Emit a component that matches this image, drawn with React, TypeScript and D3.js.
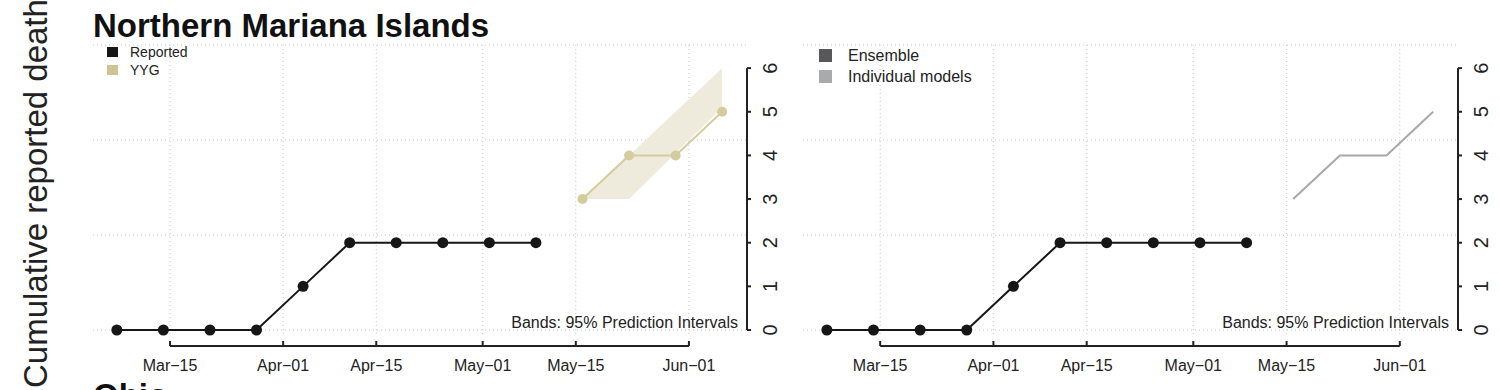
import React from "react";
import * as d3 from "d3";

const title = "Northern Mariana Islands";
const nextTitle = "Ohio";
const yAxisTitle = "Cumulative reported deaths";
const bandNote = "Bands: 95% Prediction Intervals";

const reportedDates = ["2020-03-07", "2020-03-14", "2020-03-21", "2020-03-28", "2020-04-04", "2020-04-11", "2020-04-18", "2020-04-25", "2020-05-02", "2020-05-09"];
const reportedValues = [0, 0, 0, 0, 1, 2, 2, 2, 2, 2];

const forecastDates = ["2020-05-16", "2020-05-23", "2020-05-30", "2020-06-06"];
const yygMedian = [3, 4, 4, 5];
const yygLower = [3, 3, 4.05, 5.1];
const yygUpper = [3, 4, 5, 6];
const individualModelValues = [3, 4, 4, 5];

const xTickDates = ["2020-03-15", "2020-04-01", "2020-04-15", "2020-05-01", "2020-05-15", "2020-06-01"];
const xTickLabels = ["Mar\u221215", "Apr\u221201", "Apr\u221215", "May\u221201", "May\u221215", "Jun\u221201"];
const yTicks = [0, 1, 2, 3, 4, 5, 6];

const leftLegend = ["Reported", "YYG"];
const rightLegend = ["Ensemble", "Individual models"];

const xDomain = [new Date("2020-03-03T10:00:00"), new Date("2020-06-09T14:00:00")];
const yDomain = [0, 6.53];

const FONT = "'Liberation Sans', Arial, Helvetica, sans-serif";
const YYG_COLOR = "#d5cc9e";
const YYG_BAND = "#efebdc";
const parse = (s: string) => new Date(s + "T00:00:00");

type PanelProps = { left: number; right: number; mode: "yyg" | "ensemble" };

function Panel({ left, right, mode }: PanelProps) {
  const top = 45;
  const bottomGrid = 335;
  const x = d3.scaleTime().domain(xDomain).range([left, right]);
  const y = d3.scaleLinear().domain(yDomain).range([330, top]);
  const gridY = d3.range(4).map((i) => (yDomain[1] * i) / 3);
  const line = d3
    .line<[Date, number]>()
    .x((d) => x(d[0]))
    .y((d) => y(d[1]));
  const reported: [Date, number][] = reportedDates.map((d, i) => [parse(d), reportedValues[i]]);
  const fDates = forecastDates.map(parse);
  const area = d3
    .area<number>()
    .x((i) => x(fDates[i]))
    .y0((i) => y(yygLower[i]))
    .y1((i) => y(yygUpper[i]));
  const idx = fDates.map((_, i) => i);
  const axisY = 346;
  const firstTick = x(parse(xTickDates[0]));
  const lastTick = x(parse(xTickDates[xTickDates.length - 1]));
  return (
    <g>
      {gridY.map((g, i) => (
        <line key={"gy" + i} x1={left} x2={right} y1={y(g)} y2={y(g)} stroke="#c9c9c9" strokeDasharray="1,3" />
      ))}
      {xTickDates.map((d, i) => (
        <line key={"gx" + i} x1={x(parse(d))} x2={x(parse(d))} y1={top} y2={bottomGrid} stroke="#c9c9c9" strokeDasharray="1,3" />
      ))}
      {mode === "yyg" && (
        <g>
          <path d={area(idx) || ""} fill={YYG_BAND} />
          <path d={line(fDates.map((d, i) => [d, yygMedian[i]])) || ""} fill="none" stroke={YYG_COLOR} strokeWidth={2} />
          {fDates.map((d, i) => (
            <circle key={"yp" + i} cx={x(d)} cy={y(yygMedian[i])} r={5} fill={YYG_COLOR} />
          ))}
        </g>
      )}
      {mode === "ensemble" && (
        <path d={line(fDates.map((d, i) => [d, individualModelValues[i]])) || ""} fill="none" stroke="#a8a8a8" strokeWidth={2} />
      )}
      <path d={line(reported) || ""} fill="none" stroke="#161616" strokeWidth={2} />
      {reported.map((d, i) => (
        <circle key={"rp" + i} cx={x(d[0])} cy={y(d[1])} r={5.5} fill="#161616" />
      ))}
      <text x={right - 8} y={y(0) - 2} textAnchor="end" fontSize={16} fontFamily={FONT} fill="#222">
        {bandNote}
      </text>
      {/* x axis */}
      <line x1={firstTick} x2={lastTick} y1={axisY} y2={axisY} stroke="#222" strokeWidth={2} />
      {xTickDates.map((d, i) => (
        <g key={"xt" + i}>
          <line x1={x(parse(d))} x2={x(parse(d))} y1={axisY} y2={axisY - 5} stroke="#222" strokeWidth={2} />
          <text x={x(parse(d))} y={371} textAnchor="middle" fontSize={16} fontFamily={FONT} fill="#222">
            {xTickLabels[i]}
          </text>
        </g>
      ))}
      {/* y axis on right */}
      <line x1={right + 1} x2={right + 1} y1={y(0)} y2={y(6)} stroke="#222" strokeWidth={2} />
      {yTicks.map((t) => (
        <g key={"yt" + t}>
          <line x1={right + 1} x2={right + 5} y1={y(t)} y2={y(t)} stroke="#222" strokeWidth={2} />
          <text
            transform={`translate(${right + 31},${y(t)}) rotate(-90)`}
            textAnchor="middle"
            fontSize={20}
            fontFamily={FONT}
            fill="#222"
          >
            {t}
          </text>
        </g>
      ))}
      {mode === "yyg" ? (
        <g fontFamily={FONT} fontSize={14} fill="#222">
          <rect x={107} y={47} width={11} height={10} fill="#161616" />
          <text x={130} y={57}>{leftLegend[0]}</text>
          <rect x={107} y={65} width={11} height={10} fill="#cdc393" />
          <text x={130} y={75}>{leftLegend[1]}</text>
        </g>
      ) : (
        <g fontFamily={FONT} fontSize={16} fill="#222">
          <rect x={819} y={49} width={13} height={13} fill="#58585a" />
          <text x={848} y={61}>{rightLegend[0]}</text>
          <rect x={819} y={70} width={13} height={13} fill="#a9aaac" />
          <text x={848} y={82}>{rightLegend[1]}</text>
        </g>
      )}
    </g>
  );
}

export default function App() {
  return (
    <svg
      width={1500}
      height={390}
      viewBox="0 0 1500 390"
      style={{ position: "absolute", left: 0, top: 0, background: "#fff" }}
    >
      <rect width={1500} height={390} fill="#fff" />
      <text
        transform="translate(47,388) rotate(-90)"
        textAnchor="start"
        fontSize={33}
        fontFamily={FONT}
        fill="#222"
      >
        {yAxisTitle}
      </text>
      <text x={93} y={37} fontSize={33} fontWeight="bold" fontFamily={FONT} fill="#111">
        {title}
      </text>
      <text x={93} y={407} fontSize={33} fontWeight="bold" fontFamily={FONT} fill="#111">
        {nextTitle}
      </text>
      <Panel left={93} right={746} mode="yyg" />
      <Panel left={803} right={1457} mode="ensemble" />
    </svg>
  );
}
